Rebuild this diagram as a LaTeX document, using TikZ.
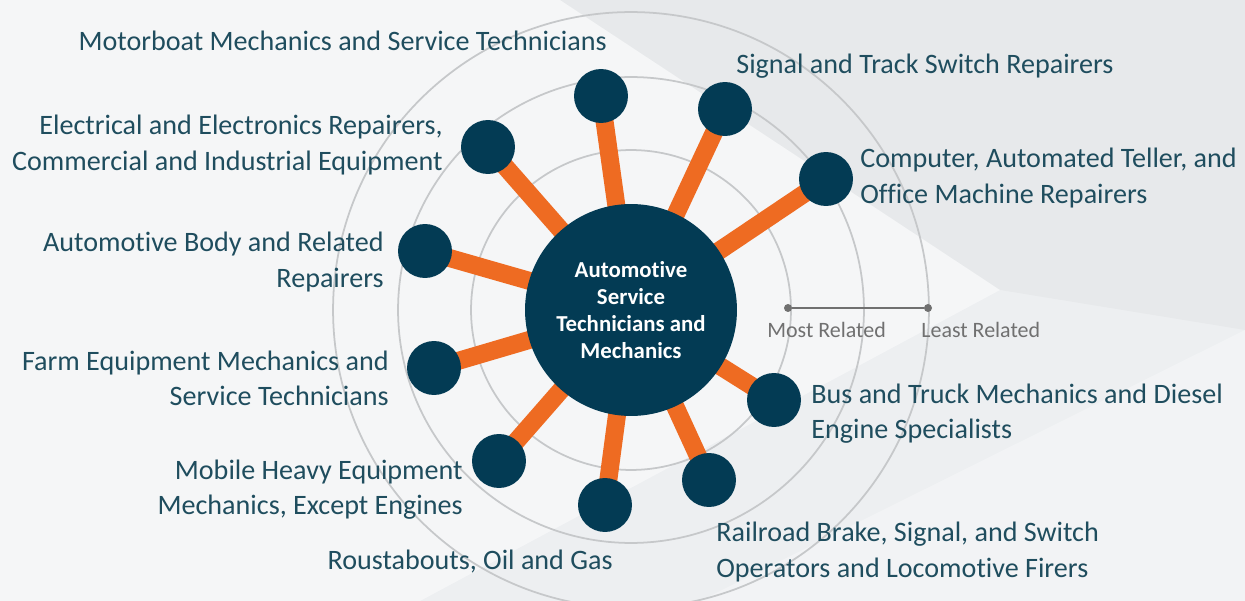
\documentclass[tikz,border=0pt]{standalone}
\usepackage{fontspec}
\setmainfont{Carlito}[Ligatures=NoCommon]
\usetikzlibrary{positioning}

\definecolor{navy}{HTML}{033B54}
\definecolor{rust}{HTML}{EE6B22}
\definecolor{inkteal}{HTML}{1F4D5E}
\definecolor{ringgray}{HTML}{C6C8CA}
\definecolor{legendgray}{HTML}{707070}
\definecolor{bgbase}{HTML}{EDEFF1}

\pgfdeclarelayer{bg}
\pgfdeclarelayer{links}
\pgfsetlayers{bg,links,main}

\begin{document}
\begin{tikzpicture}[
  x=0.02cm, y=-0.02cm,
  every node/.style={font=\fontsize{16}{20}\selectfont, text=inkteal, inner sep=0pt},
  hub/.style={circle, fill=navy, minimum size=4.24cm, text=white, align=center,
    font=\bfseries\fontsize{13}{15.3}\selectfont},
  sat/.style={circle, fill=navy, minimum size=1.08cm},
  link/.style={rust, line width=0.36cm},
  ring/.style={ringgray, line width=1pt},
  tick/.style={circle, fill=legendgray, minimum size=0.16cm},
  legendtext/.style={text=legendgray, font=\fontsize{12.5}{15}\selectfont},
]

\clip (0,0) rectangle (1245,601);

% centre and satellites
\node[hub] (hub) at (631,310) {Automotive\\Service\\Technicians and\\Mechanics};
\node[sat] (motor) at (601,96) {};
\node[sat] (signal) at (725,109) {};
\node[sat] (computer) at (826,179) {};
\node[sat] (electrical) at (488,147) {};
\node[sat] (body) at (425,251) {};
\node[sat] (farm) at (434,368) {};
\node[sat] (mobile) at (499,461) {};
\node[sat] (roust) at (605,505) {};
\node[sat] (railroad) at (709,480) {};
\node[sat] (bus) at (774,400) {};

% background and rings
\begin{pgfonlayer}{bg}
\fill[bgbase] (0,0) rectangle (1245,601);
\fill[white, opacity=0.45] (0,0) -- (560,0) -- (1000,290) -- (420,601) -- (0,601) -- cycle;
\fill[white, opacity=0.3] (700,601) -- (1245,330) -- (1245,601) -- cycle;
\fill[black, opacity=0.025] (560,0) -- (1245,0) -- (1245,330) -- (1000,290) -- cycle;
\draw[ring] (hub.center) circle (3.2cm);
\draw[ring] (hub.center) circle (4.66cm);
\draw[ring] (hub.center) circle (5.96cm);
\end{pgfonlayer}

% connectors
\begin{pgfonlayer}{links}
\foreach \s in {motor,signal,computer,electrical,body,farm,mobile,roust,railroad,bus}
  \draw[link] (hub.center) -- (\s.center);
\end{pgfonlayer}

% labels
\node[anchor=east] (motorlbl) at (607,41) {Motorboat Mechanics and Service Technicians};
\node[anchor=west] (signallbl) at (736,66) {Signal and Track Switch Repairers};
\node[anchor=west, align=left] (computerlbl) at (860,178) {Computer, Automated Teller, and\\Office Machine Repairers};
\node[anchor=east, align=right] (electricallbl) at (443,145) {Electrical and Electronics Repairers,\\Commercial and Industrial Equipment};
\node[anchor=east, align=right] (bodylbl) at (384,262) {Automotive Body and Related\\Repairers};
\node[anchor=east, align=right] (farmlbl) at (389,378) {Farm Equipment Mechanics and\\Service Technicians};
\node[anchor=east, align=right] (mobilelbl) at (463,490) {Mobile Heavy Equipment\\Mechanics, Except Engines};
\node[anchor=east] (roustlbl) at (613,562) {Roustabouts, Oil and Gas};
\node[anchor=west, align=left] (railroadlbl) at (716,552) {Railroad Brake, Signal, and Switch\\Operators and Locomotive Firers};
\node[anchor=west, align=left] (buslbl) at (811,414) {Bus and Truck Mechanics and Diesel\\Engine Specialists};

% legend
\node[tick] (most) at (788,308) {};
\node[tick] (least) at (928,308) {};
\draw[legendgray, line width=1.2pt] (most) -- (least);
\node[legendtext, anchor=west] (mostlbl) at (767,330) {Most Related};
\node[legendtext, anchor=west] (leastlbl) at (921,330) {Least Related};

\end{tikzpicture}
\end{document}
